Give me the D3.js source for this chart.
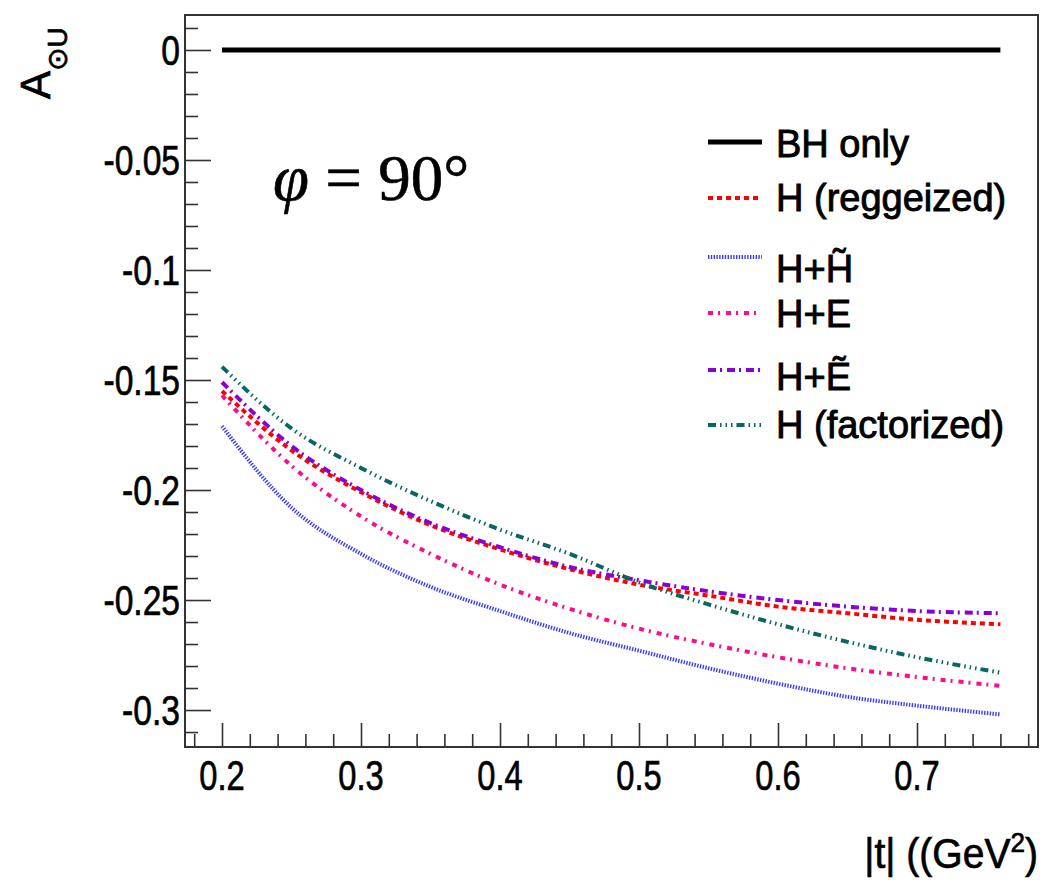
<!DOCTYPE html>
<html><head><meta charset="utf-8">
<script src="https://cdn.jsdelivr.net/npm/d3@7"></script>
<style>body{margin:0;background:#fff}svg{display:block}</style>
</head><body>
<script>
// ---- data ----
const tValues      = [0.20, 0.25, 0.30, 0.35, 0.40, 0.45, 0.50, 0.55, 0.60, 0.65, 0.70, 0.76];
const bhOnly       = [0, 0, 0, 0, 0, 0, 0, 0, 0, 0, 0, 0];
const hReggeized   = [-0.155, -0.182, -0.201, -0.216, -0.227, -0.236, -0.243, -0.248, -0.253, -0.256, -0.259, -0.261];
const hPlusHtilde  = [-0.171, -0.208, -0.229, -0.244, -0.255, -0.265, -0.273, -0.281, -0.288, -0.294, -0.298, -0.302];
const hPlusE       = [-0.157, -0.189, -0.212, -0.229, -0.243, -0.254, -0.263, -0.270, -0.276, -0.281, -0.285, -0.289];
const hPlusEtilde  = [-0.151, -0.180, -0.200, -0.215, -0.226, -0.235, -0.241, -0.246, -0.250, -0.253, -0.255, -0.256];
const hFactorized  = [-0.144, -0.172, -0.190, -0.205, -0.218, -0.229, -0.242, -0.252, -0.261, -0.269, -0.276, -0.283];

const xMajorTicks = [0.2, 0.3, 0.4, 0.5, 0.6, 0.7];
const xTickLabels = ["0.2", "0.3", "0.4", "0.5", "0.6", "0.7"];
const xMinorTicks = [0.18, 0.22, 0.24, 0.26, 0.28, 0.32, 0.34, 0.36, 0.38, 0.42, 0.44, 0.46, 0.48, 0.52, 0.54, 0.56, 0.58, 0.62, 0.64, 0.66, 0.68, 0.72, 0.74, 0.76, 0.78];
const yMajorTicks = [0, -0.05, -0.1, -0.15, -0.2, -0.25, -0.3];
const yTickLabels = ["0", "-0.05", "-0.1", "-0.15", "-0.2", "-0.25", "-0.3"];
const yMinorTicks = [0.01, -0.01, -0.02, -0.03, -0.04, -0.06, -0.07, -0.08, -0.09, -0.11, -0.12, -0.13, -0.14, -0.16, -0.17, -0.18, -0.19, -0.21, -0.22, -0.23, -0.24, -0.26, -0.27, -0.28, -0.29, -0.31];

const seriesNames = ["BH only", "H (reggeized)", "H+H\u0303", "H+E", "H+E\u0303", "H (factorized)"];

// ---- styles ----
const seriesData = [bhOnly, hReggeized, hPlusHtilde, hPlusE, hPlusEtilde, hFactorized];
const styles = [
  {color: "#000000", width: 5, dash: null},
  {color: "#ff0000", width: 4, dash: "5,4"},
  {color: "#3a3aff", width: 4, dash: "1.4,1.4"},
  {color: "#ff0a8c", width: 4, dash: "5,5,2,6"},
  {color: "#8a00d0", width: 4, dash: "8,4,2,5"},
  {color: "#0a6660", width: 4, dash: "8,4,1.5,4,1.5,4,1.5,4"}
];

const W = 1050, H = 882;
const L = 185, R = 1038, T = 15, B = 747;
const x = d3.scaleLinear().domain([0.17338, 0.78705]).range([L, R]);
const y = d3.scaleLinear().domain([-0.3168, 0.0159]).range([B, T]);

const svg = d3.select("body").append("svg").attr("width", W).attr("height", H);
svg.append("rect").attr("width", W).attr("height", H).attr("fill", "#fff");

const SANS = "'Liberation Sans', Arial, sans-serif";
function label(parent, tx, ty, str, opts) {
  const g = parent.append("g").attr("transform", `translate(${tx},${ty}) scale(${opts.sx || 1},${opts.sy || 1})`);
  const t = g.append("text").attr("x", 0).attr("y", 0)
    .attr("font-family", opts.family || SANS)
    .attr("font-size", opts.size)
    .attr("text-anchor", opts.anchor || "start")
    .attr("fill", "#000").attr("stroke", "#000").attr("stroke-width", opts.sw == null ? 0.7 : opts.sw)
    .text(str);
  return t;
}

// curves
const line = d3.line().x((d, i) => x(tValues[i])).y(d => y(d)).curve(d3.curveMonotoneX);
const plot = svg.append("g");
seriesData.forEach((s, k) => {
  const st = styles[k];
  plot.append("path").datum(s).attr("d", line)
    .attr("fill", "none").attr("stroke", st.color).attr("stroke-width", st.width)
    .attr("stroke-dasharray", st.dash).attr("stroke-linecap", "butt");
});

// frame
svg.append("rect").attr("x", L).attr("y", T).attr("width", R - L).attr("height", B - T)
  .attr("fill", "none").attr("stroke", "#333").attr("stroke-width", 2);

// axes (ticks only, inward)
const tickColor = "#333";
const yAxMaj = d3.axisRight(y).tickValues(yMajorTicks).tickSize(26).tickSizeOuter(0).tickFormat("");
const yAxMin = d3.axisRight(y).tickValues(yMinorTicks).tickSize(13).tickSizeOuter(0).tickFormat("");
const xAxMaj = d3.axisTop(x).tickValues(xMajorTicks).tickSize(24).tickSizeOuter(0).tickFormat("");
const xAxMin = d3.axisTop(x).tickValues(xMinorTicks).tickSize(13).tickSizeOuter(0).tickFormat("");
[[yAxMaj, `translate(${L},0)`], [yAxMin, `translate(${L},0)`], [xAxMaj, `translate(0,${B})`], [xAxMin, `translate(0,${B})`]].forEach(([ax, tr]) => {
  const g = svg.append("g").attr("transform", tr).call(ax);
  g.select(".domain").remove();
  g.selectAll("line").attr("stroke", tickColor).attr("stroke-width", 1.6);
});

// tick labels
yMajorTicks.forEach((v, i) => {
  label(svg, 180, y(v) + 15, yTickLabels[i], {size: 42, sx: 0.8, anchor: "end"});
});
xMajorTicks.forEach((v, i) => {
  label(svg, x(v), 790, xTickLabels[i], {size: 43, sx: 0.76, anchor: "middle"});
});

// x title
{
  const g = svg.append("g").attr("transform", `translate(1038,868) scale(0.93,1)`);
  const t = g.append("text").attr("text-anchor", "end")
    .attr("font-family", SANS).attr("font-size", 42).attr("stroke", "#000").attr("stroke-width", 0.7);
  t.append("tspan").text("|t| ((GeV");
  t.append("tspan").attr("font-size", 28).attr("dy", -16).text("2");
  t.append("tspan").attr("dy", 16).text(")");
}

// y title
{
  const g = svg.append("g").attr("transform", `translate(50,99) rotate(-90)`);
  const t = g.append("text").attr("text-anchor", "start")
    .attr("font-family", SANS).attr("font-size", 42).attr("stroke", "#000").attr("stroke-width", 0.7);
  t.append("tspan").text("A");
  t.append("tspan").attr("font-size", 28).attr("dy", 17).attr("font-family", "'DejaVu Sans', sans-serif").text("\u2299");
  t.append("tspan").attr("font-size", 28).text("U");
}

// phi label
{
  const t = svg.append("text").attr("x", 273).attr("y", 200)
    .attr("font-family", "'Liberation Serif', 'Times New Roman', serif").attr("font-size", 65)
    .attr("stroke", "#000").attr("stroke-width", 0.6);
  t.append("tspan").attr("font-style", "italic").text("\u03C6");
  t.append("tspan").text(" = 90\u00B0");
}

// legend
const legRowY = [142, 198, 257, 313, 370, 425];
const legBase = [157, 211, 282, 327, 390, 438];
seriesNames.forEach((name, k) => {
  const st = styles[k];
  svg.append("line").attr("x1", 708).attr("x2", 762).attr("y1", legRowY[k]).attr("y2", legRowY[k])
    .attr("stroke", st.color).attr("stroke-width", st.width).attr("stroke-dasharray", st.dash);
  label(svg, 776, legBase[k], name, {size: 38, sw: 0.9});
});
</script>
</body></html>
